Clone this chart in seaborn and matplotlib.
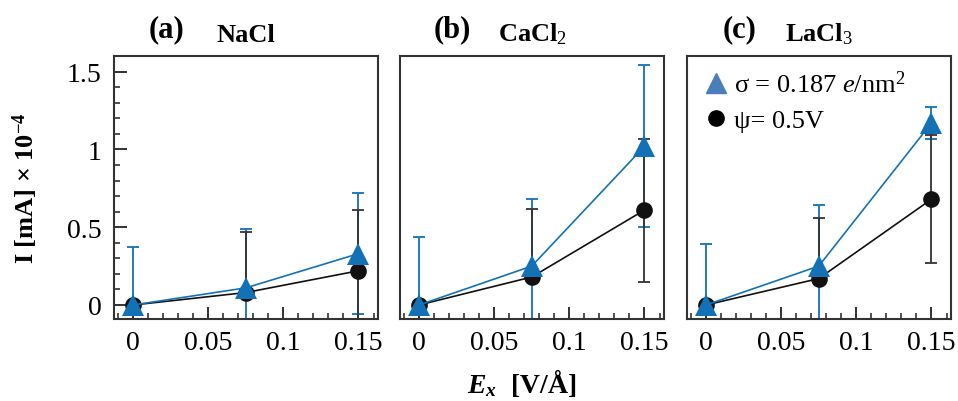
import matplotlib
matplotlib.use("Agg")
import matplotlib.pyplot as plt
import pandas as pd
import seaborn as sns
from matplotlib.ticker import MultipleLocator, FuncFormatter

# datos
ex = [0, 0.075, 0.15]
panels = ["(a)", "(b)", "(c)"]
salts = ["NaCl", "CaCl$_2$", "LaCl$_3$"]

# sigma = 0.187 e/nm^2 (triangulos azules)
sigma_vals = [[0, 0.11, 0.33], [0, 0.25, 1.02], [0, 0.25, 1.17]]
sigma_err_lo = [[0, 0.38, 0.39], [0, 0.43, 0.52], [0, 0.39, 0.10]]
sigma_err_hi = [[0.37, 0.38, 0.39], [0.44, 0.43, 0.52], [0.39, 0.39, 0.10]]

# psi = 0.5V (circulos negros)
psi_vals = [[0, 0.08, 0.22], [0, 0.18, 0.61], [0, 0.17, 0.68]]
psi_err_lo = [[0.05, 0, 0.39], [0.05, 0, 0.46], [0.05, 0, 0.41]]
psi_err_hi = [[0, 0.39, 0.39], [0, 0.44, 0.46], [0, 0.39, 0.41]]

blue = "#1372b6"
black = "#111111"

sns.set_theme(style="ticks")
plt.rcParams["font.family"] = ["Liberation Serif", "DejaVu Serif"]
plt.rcParams["mathtext.fontset"] = "custom"
plt.rcParams["mathtext.rm"] = "Liberation Serif"
plt.rcParams["mathtext.it"] = "Liberation Serif:italic"
plt.rcParams["mathtext.bf"] = "Liberation Serif:bold"
plt.rcParams["mathtext.bfit"] = "Liberation Serif:bold:italic"
plt.rcParams["text.color"] = "black"
plt.rcParams["axes.labelcolor"] = "black"
plt.rcParams["xtick.labelcolor"] = "black"
plt.rcParams["ytick.labelcolor"] = "black"

fig = plt.figure(figsize=(9.58, 4.02), dpi=100)
lefts = [114 / 958, 400 / 958, 687 / 958]
fmt = FuncFormatter(lambda v, p: "%g" % round(v, 3))

for i in range(3):
    ax = fig.add_axes([lefts[i], 0.204, 0.2756, 0.654])
    df = pd.DataFrame({"Ex": ex, "sigma": sigma_vals[i], "psi": psi_vals[i]})

    # barras de error: azul debajo, negro encima
    ax.errorbar(df.Ex, df.sigma, yerr=[sigma_err_lo[i], sigma_err_hi[i]], fmt="none",
                ecolor=blue, elinewidth=1.3, capsize=4, capthick=1.3, zorder=2)
    ax.errorbar(df.Ex, df.psi, yerr=[psi_err_lo[i], psi_err_hi[i]], fmt="none",
                ecolor="#333333", elinewidth=1.3, capsize=4, capthick=1.3, zorder=3)
    sns.lineplot(data=df, x="Ex", y="psi", ax=ax, color=black, lw=1.2, marker="o",
                 markersize=12, markeredgewidth=0, zorder=4)
    sns.lineplot(data=df, x="Ex", y="sigma", ax=ax, color=blue, lw=1.2, marker="^",
                 markersize=16, markeredgewidth=0, zorder=5)

    ax.set_xlim(-0.0127, 0.163)
    ax.set_ylim(-0.09, 1.6)
    ax.xaxis.set_major_locator(MultipleLocator(0.05))
    ax.xaxis.set_minor_locator(MultipleLocator(0.01))
    ax.xaxis.set_major_formatter(fmt)
    ax.tick_params(axis="x", which="major", direction="in", length=9, width=1.3,
                   labelsize=20, pad=8, color="#222222")
    ax.tick_params(axis="x", which="minor", direction="in", length=4.5, width=1.1,
                   color="#222222")
    if i == 0:
        ax.yaxis.set_major_locator(MultipleLocator(0.5))
        ax.yaxis.set_minor_locator(MultipleLocator(0.1))
        ax.yaxis.set_major_formatter(fmt)
        ax.tick_params(axis="y", which="major", direction="in", length=9, width=1.3,
                       labelsize=20, pad=9, color="#222222")
        ax.tick_params(axis="y", which="minor", direction="in", length=4.5, width=1.1,
                       color="#222222")
        ax.set_ylabel("I [mA] × 10$^{\\mathbf{-4}}$", fontsize=19, fontweight="bold")
        ax.yaxis.set_label_coords(-0.28, 0.5)
    else:
        ax.set_yticks([])
        ax.set_ylabel("")
    ax.set_xlabel("")
    for s in ax.spines.values():
        s.set_visible(True)
        s.set_linewidth(1.5)
        s.set_color("#333333")

    ax.text(0.20, 1.05, panels[i], transform=ax.transAxes, ha="center", va="bottom",
            fontsize=22, fontweight="bold")
    ax.text(0.50, 1.04, salts[i], transform=ax.transAxes, ha="center", va="bottom",
            fontsize=19, fontweight="bold")

    if i == 2:
        h1 = plt.Line2D([], [], color="#4a7ebb", marker="^", ls="none", markersize=15)
        h2 = plt.Line2D([], [], color="black", marker="o", ls="none", markersize=11)
        ax.legend([h1, h2], ["σ = 0.187 $e$/nm$^2$", "ψ= 0.5V"], loc="upper left",
                  frameon=False, fontsize=19, handletextpad=0.15, handlelength=1.1,
                  borderaxespad=0.15, labelspacing=0.45)
    elif ax.get_legend() is not None:
        ax.get_legend().remove()

fig.text(522 / 958, 1 - 383 / 402, "$\\mathbfit{E}_{\\mathbfit{x}}$  [V/Å]", ha="center",
         va="center", fontsize=20, fontweight="bold")

fig.savefig("out.png", dpi=100)
